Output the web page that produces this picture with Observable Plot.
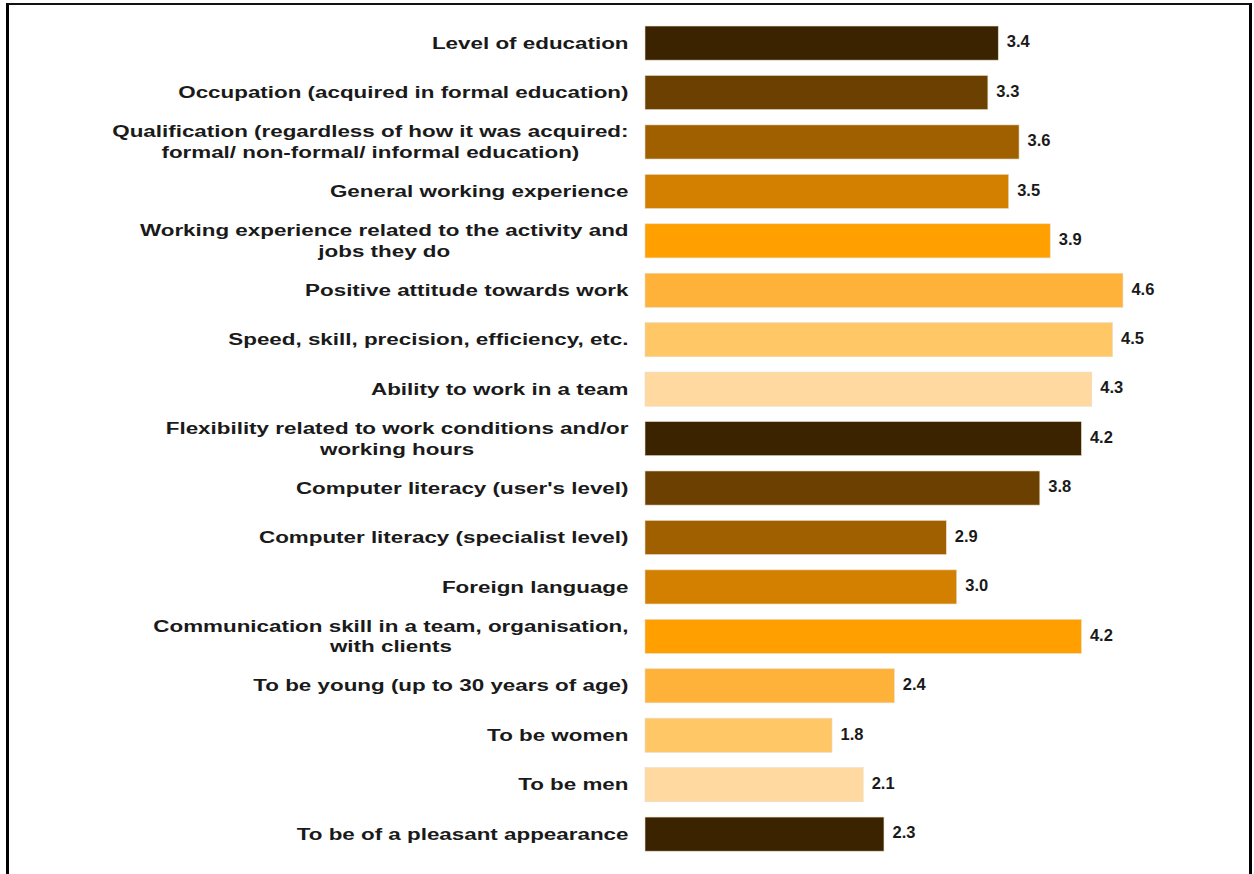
<!DOCTYPE html>
<html>
<head>
<meta charset="utf-8">
<script src="https://cdn.jsdelivr.net/npm/d3@7"></script>
<script src="https://cdn.jsdelivr.net/npm/@observablehq/plot@0.6"></script>
<style>
  html, body { margin: 0; padding: 0; background: #fff; overflow: hidden; }
  #wrap { position: relative; width: 1254px; height: 874px; }
  #frame { position: absolute; left: 6px; top: 3px; width: 1240px; height: 900px;
           border-top: 2px solid #111; border-left: 3px solid #000; border-right: 3px solid #000;
           pointer-events: none; }
  svg text { fill: #1a1a1a; }
</style>
</head>
<body>
<div id="wrap"><div id="chart"></div><div id="frame"></div></div>
<script>
const categories = [
  "Level of education",
  "Occupation (acquired in formal education)",
  "Qualification (regardless of how it was acquired:\nformal/ non-formal/ informal education)",
  "General working experience",
  "Working experience related to the activity and\njobs they do",
  "Positive attitude towards work",
  "Speed, skill, precision, efficiency, etc.",
  "Ability to work in a team",
  "Flexibility related to work conditions and/or\nworking hours",
  "Computer literacy (user's level)",
  "Computer literacy (specialist level)",
  "Foreign language",
  "Communication skill in a team, organisation,\nwith clients",
  "To be young (up to 30 years of age)",
  "To be women",
  "To be men",
  "To be of a pleasant appearance"
];
const values = [3.4, 3.3, 3.6, 3.5, 3.9, 4.6, 4.5, 4.3, 4.2, 3.8, 2.9, 3.0, 4.2, 2.4, 1.8, 2.1, 2.3];
const palette = ["#3b2300", "#6b4000", "#a06000", "#d38000", "#ffa000", "#ffb23a", "#ffc766", "#ffd9a0"];

const data = categories.map((c, i) => ({category: c, value: values[i], shade: palette[i % palette.length]}));

const chart = Plot.plot({
  width: 1254,
  height: 874,
  marginLeft: 645,
  marginRight: 89.5,
  marginTop: 10.7,
  marginBottom: 7.5,
  style: {fontFamily: "'Liberation Sans', Arial, sans-serif", fontSize: "16px", fontWeight: "bold", background: "#fff"},
  x: {domain: [0, 5], axis: null},
  y: {domain: categories, padding: 0.31, round: false},
  marks: [
    Plot.barX(data, {y: "category", x: "value", fill: "shade", stroke: "#e8dcc8", strokeWidth: 0.6}),
    Plot.text(data, {y: "category", x: "value", text: d => d.value.toFixed(1), textAnchor: "start", dx: 8, dy: -1.5,
                     fontSize: 16.5, fontWeight: "bold", fill: "#1a1a1a", ariaLabel: "values"}),
    Plot.axisY({tickSize: 0, tickPadding: 17, dy: -1.5, label: null, fontSize: 16, fontWeight: "bold", lineHeight: 1.3})
  ]
});
document.getElementById("chart").appendChild(chart);

function stretch(selector, s) {
  chart.querySelectorAll(selector).forEach(el => {
    const t = el.getAttribute("transform");
    if (t) el.setAttribute("transform", t + ` scale(${s},1)`);
    else {
      const x = +el.getAttribute("x") || 0, y = +el.getAttribute("y") || 0;
      el.setAttribute("transform", `translate(${x},${y}) scale(${s},1) translate(${-x},${-y})`);
    }
  });
}
stretch('g[aria-label="y-axis tick label"] text', 1.40);
stretch('g[aria-label="values"] text', 1.12);

// Multi-line labels: right-aligned block, lines centered within it
chart.querySelectorAll('g[aria-label="y-axis tick label"] text').forEach(el => {
  const spans = el.querySelectorAll("tspan");
  if (spans.length < 2) return;
  const w = Math.max(...Array.from(spans, s => s.getComputedTextLength()));
  el.setAttribute("text-anchor", "middle");
  el.style.textAnchor = "middle";
  spans.forEach(s => s.setAttribute("x", -w / 2));
});
</script>
</body>
</html>
